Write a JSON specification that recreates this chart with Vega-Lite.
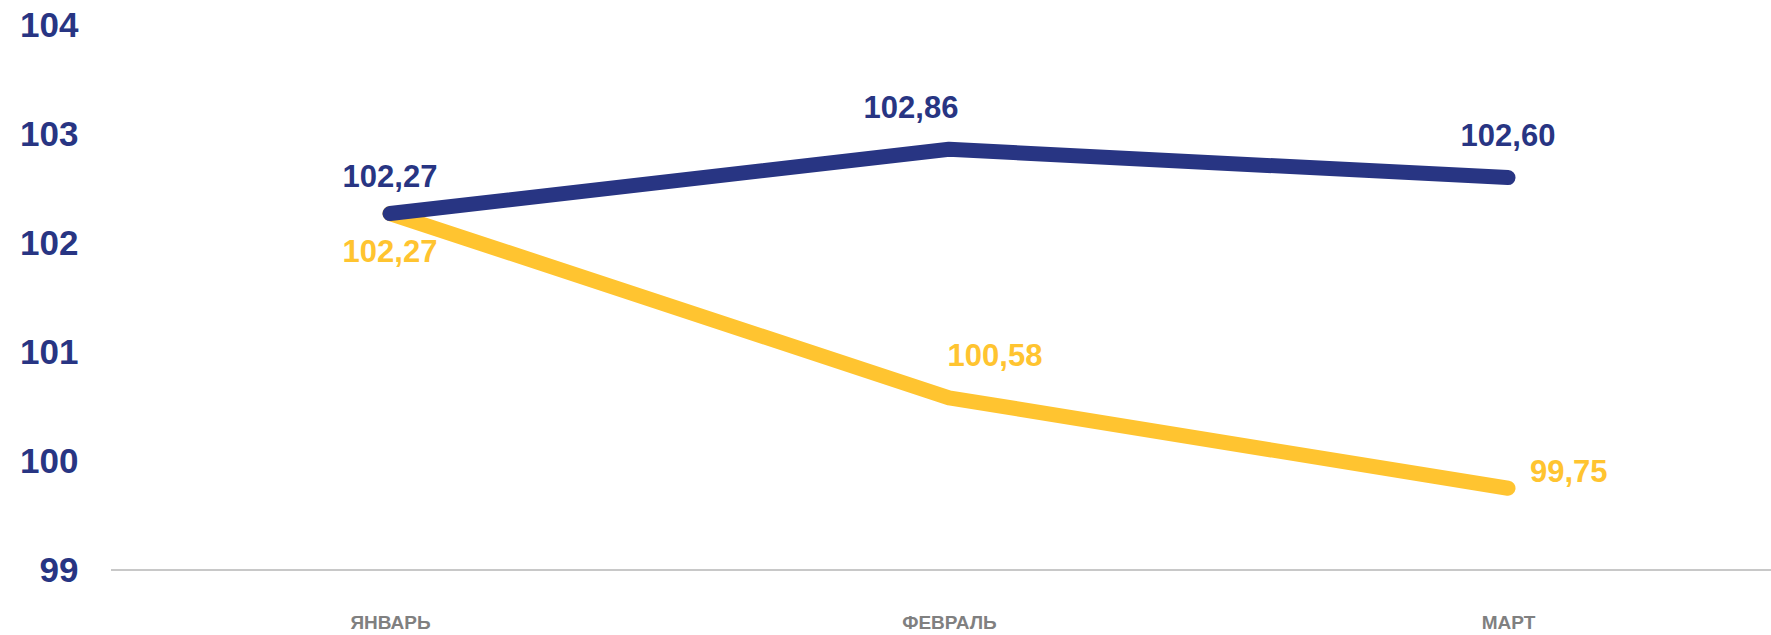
{
  "$schema": "https://vega.github.io/schema/vega-lite/v6.json",
  "width": 1660,
  "height": 545,
  "autosize": {"type": "none"},
  "padding": {"left": 111, "top": 25, "right": 0, "bottom": 65},
  "background": "white",
  "config": {
    "view": {"stroke": null},
    "locale": {"number": {"decimal": ",", "thousands": " ", "grouping": [3], "currency": ["", ""]}},
    "text": {"font": "Liberation Sans", "fontWeight": "bold", "fontSize": 31}
  },
  "data": {
    "values": [
      {"month": "ЯНВАРЬ", "series": "blue", "value": 102.27},
      {"month": "ФЕВРАЛЬ", "series": "blue", "value": 102.86},
      {"month": "МАРТ", "series": "blue", "value": 102.60},
      {"month": "ЯНВАРЬ", "series": "yellow", "value": 102.27},
      {"month": "ФЕВРАЛЬ", "series": "yellow", "value": 100.58},
      {"month": "МАРТ", "series": "yellow", "value": 99.75}
    ]
  },
  "layer": [
    {
      "data": {"values": [{}]},
      "mark": {"type": "rule", "color": "#c8c8c8", "strokeWidth": 2},
      "encoding": {"y": {"datum": 99, "type": "quantitative", "scale": {"domain": [99, 104]}}}
    },
    {
      "transform": [{"filter": {"field": "series", "equal": "yellow"}}],
      "mark": {"type": "line", "color": "#FFC430", "strokeWidth": 15, "strokeCap": "round", "strokeJoin": "round"},
      "encoding": {
        "x": {
          "field": "month", "type": "ordinal", "sort": ["ЯНВАРЬ", "ФЕВРАЛЬ", "МАРТ"],
          "scale": {"type": "point", "range": [279, 1397], "padding": 0},
          "axis": {"title": null, "domain": false, "ticks": false, "labelAngle": 0, "labelFont": "Liberation Sans", "labelFontWeight": "bold", "labelFontSize": 19, "labelColor": "#808080", "labelPadding": 43}
        },
        "y": {
          "field": "value", "type": "quantitative",
          "scale": {"domain": [99, 104], "zero": false, "nice": false},
          "axis": {"title": null, "values": [99, 100, 101, 102, 103, 104], "grid": false, "domain": false, "ticks": false, "labelFont": "Liberation Sans", "labelFontWeight": "bold", "labelFontSize": 35, "labelColor": "#283583", "labelPadding": 33, "format": "d"}
        }
      }
    },
    {
      "transform": [{"filter": {"field": "series", "equal": "blue"}}],
      "mark": {"type": "line", "color": "#283583", "strokeWidth": 15, "strokeCap": "round", "strokeJoin": "round"},
      "encoding": {
        "x": {"field": "month", "type": "ordinal", "sort": ["ЯНВАРЬ", "ФЕВРАЛЬ", "МАРТ"]},
        "y": {"field": "value", "type": "quantitative"}
      }
    },
    {
      "transform": [{"filter": {"and": [{"field": "series", "equal": "blue"}, {"field": "month", "equal": "ЯНВАРЬ"}]}}],
      "mark": {"type": "text", "color": "#283583", "dx": 0, "dy": -36},
      "encoding": {
        "x": {"field": "month", "type": "ordinal", "sort": ["ЯНВАРЬ", "ФЕВРАЛЬ", "МАРТ"]},
        "y": {"field": "value", "type": "quantitative"},
        "text": {"field": "value", "type": "quantitative", "format": ".2f"}
      }
    },
    {
      "transform": [{"filter": {"and": [{"field": "series", "equal": "blue"}, {"field": "month", "equal": "ФЕВРАЛЬ"}]}}],
      "mark": {"type": "text", "color": "#283583", "dx": -38, "dy": -40},
      "encoding": {
        "x": {"field": "month", "type": "ordinal", "sort": ["ЯНВАРЬ", "ФЕВРАЛЬ", "МАРТ"]},
        "y": {"field": "value", "type": "quantitative"},
        "text": {"field": "value", "type": "quantitative", "format": ".2f"}
      }
    },
    {
      "transform": [{"filter": {"and": [{"field": "series", "equal": "blue"}, {"field": "month", "equal": "МАРТ"}]}}],
      "mark": {"type": "text", "color": "#283583", "dx": 0, "dy": -41},
      "encoding": {
        "x": {"field": "month", "type": "ordinal", "sort": ["ЯНВАРЬ", "ФЕВРАЛЬ", "МАРТ"]},
        "y": {"field": "value", "type": "quantitative"},
        "text": {"field": "value", "type": "quantitative", "format": ".2f"}
      }
    },
    {
      "transform": [{"filter": {"and": [{"field": "series", "equal": "yellow"}, {"field": "month", "equal": "ЯНВАРЬ"}]}}],
      "mark": {"type": "text", "color": "#FFC430", "dx": 0, "dy": 39},
      "encoding": {
        "x": {"field": "month", "type": "ordinal", "sort": ["ЯНВАРЬ", "ФЕВРАЛЬ", "МАРТ"]},
        "y": {"field": "value", "type": "quantitative"},
        "text": {"field": "value", "type": "quantitative", "format": ".2f"}
      }
    },
    {
      "transform": [{"filter": {"and": [{"field": "series", "equal": "yellow"}, {"field": "month", "equal": "ФЕВРАЛЬ"}]}}],
      "mark": {"type": "text", "color": "#FFC430", "dx": 46, "dy": -41},
      "encoding": {
        "x": {"field": "month", "type": "ordinal", "sort": ["ЯНВАРЬ", "ФЕВРАЛЬ", "МАРТ"]},
        "y": {"field": "value", "type": "quantitative"},
        "text": {"field": "value", "type": "quantitative", "format": ".2f"}
      }
    },
    {
      "transform": [{"filter": {"and": [{"field": "series", "equal": "yellow"}, {"field": "month", "equal": "МАРТ"}]}}],
      "mark": {"type": "text", "color": "#FFC430", "align": "left", "dx": 22, "dy": -15},
      "encoding": {
        "x": {"field": "month", "type": "ordinal", "sort": ["ЯНВАРЬ", "ФЕВРАЛЬ", "МАРТ"]},
        "y": {"field": "value", "type": "quantitative"},
        "text": {"field": "value", "type": "quantitative", "format": ".2f"}
      }
    }
  ]
}
